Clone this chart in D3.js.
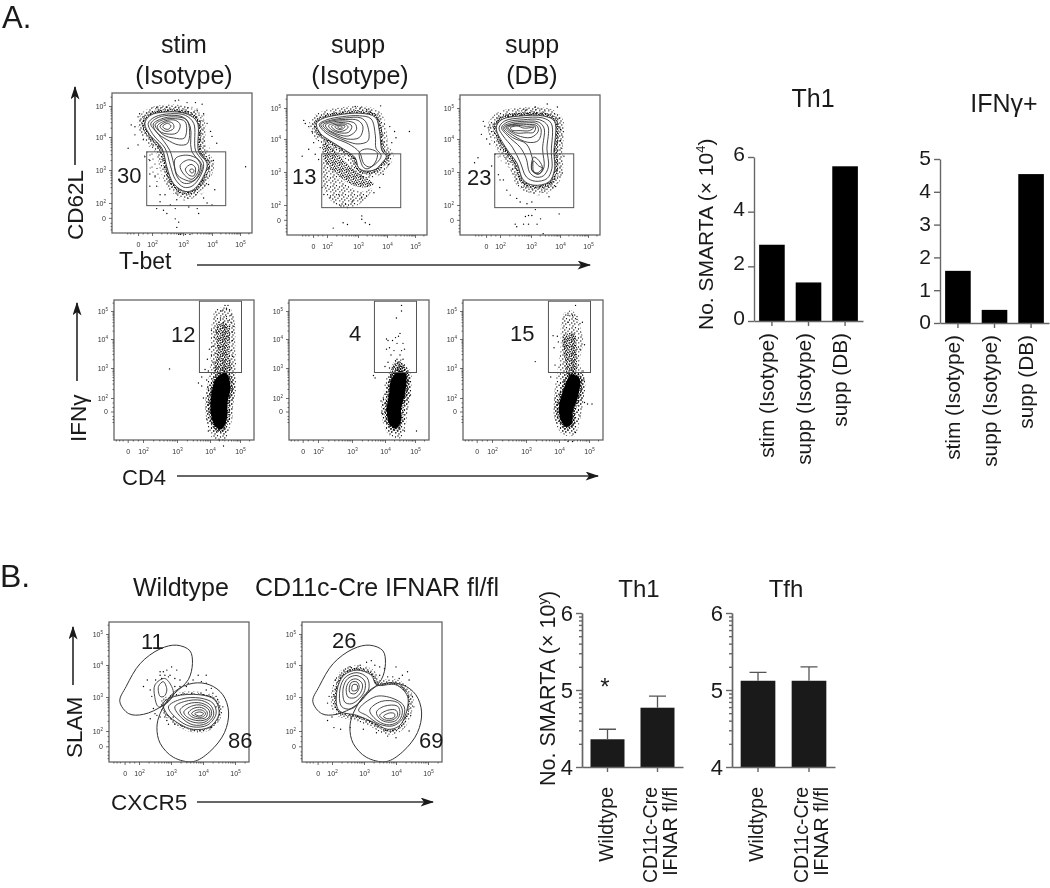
<!DOCTYPE html>
<html lang="en">
<head>
<meta charset="UTF-8">
<title>SMARTA flow plots</title>
<script src="https://d3js.org/d3.v7.min.js"></script>
<style>
  html, body { margin: 0; padding: 0; background: #fff; }
  svg { display: block; font-family: "Liberation Sans", Arial, sans-serif; filter: blur(0.35px); }
  text { fill: #1a1a1a; }
</style>
</head>
<body>
<svg id="fig" width="1050" height="888"></svg>
<script>
const flowTickValues = [1.55, 2, 3, 4, 5];
const flowMinorValues = [1.2, 1.3, 1.4, 1.7, 1.85, 2.3, 2.48, 2.6, 2.7, 2.78, 2.85, 2.9, 2.95, 3.3, 3.48, 3.6, 3.7, 3.78, 3.85, 3.9, 3.95, 4.3, 4.48, 4.6, 4.7, 4.78, 4.85, 4.9, 4.95, 5.3];

const stimIsoContours = [
  [[1.77,4.43],[1.93,4.69],[2.48,4.81],[3.14,4.74],[3.49,4.48],[3.54,3.55],[3.83,3.19],[3.71,2.82],[3.37,2.41],[3.08,2.35],[2.7,2.58],[2.48,3.09],[2.32,3.66],[1.93,4.07]],
  [[1.88,4.44],[2.1,4.65],[2.59,4.75],[3.08,4.7],[3.37,4.44],[3.43,3.6],[3.71,3.19],[3.6,2.82],[3.31,2.51],[3.02,2.48],[2.75,2.72],[2.59,3.14],[2.42,3.66],[2.04,4.07]],
  [[1.96,4.42],[2.2,4.63],[2.64,4.7],[3.02,4.63],[3.25,4.33],[3.29,3.6],[3.6,3.17],[3.51,2.82],[3.25,2.61],[3,2.61],[2.8,2.82],[2.7,3.19],[2.57,3.6],[2.2,4.1]],
  [[2.04,4.42],[2.32,4.59],[2.7,4.65],[3.14,4.54],[3.16,3.81],[2.86,3.76],[2.48,3.92],[2.15,4.15]],
  [[2.1,4.39],[2.37,4.56],[2.75,4.59],[3.08,4.49],[3.05,3.97],[2.7,3.97],[2.37,4.07]],
  [[2.17,4.35],[2.42,4.52],[2.75,4.54],[2.91,4.39],[2.8,4.13],[2.48,4.1],[2.26,4.18]],
  [[2.26,4.35],[2.48,4.49],[2.67,4.44],[2.7,4.28],[2.48,4.18],[2.32,4.25]],
  [[2.35,4.35],[2.5,4.44],[2.61,4.36],[2.53,4.25],[2.39,4.28]],
  [[2.75,3.34],[3.14,3.45],[3.54,3.31],[3.66,3.06],[3.37,2.67],[3.02,2.72],[2.8,2.88]],
  [[2.91,3.14],[3.2,3.31],[3.49,3.19],[3.54,3],[3.31,2.72],[3.02,2.88]],
  [[3.08,3.03],[3.28,3.17],[3.43,3.06],[3.37,2.82],[3.2,2.85]],
  [[3.23,3],[3.32,3.03],[3.38,2.98],[3.31,2.9]]
];
const stimIsoDots = [[2.75,5.17],[2.86,5.19],[3.14,5.11],[3.43,5.11],[3.66,5.06],[2.48,4.96],[2.15,4.96],[1.6,4.75],[1.55,4.65],[1.33,4.39],[1.45,4.33],[1.23,3.66],[1.45,4.07],[1.72,3.92],[1.55,3.76],[2.04,3.76],[1.77,3.4],[1.93,3.29],[2.1,2.82],[1.93,2.51],[2.26,2.25],[2.15,1.83],[2.48,1.68],[2.75,1.52],[2.86,1.42],[2.8,1.26],[2.86,1.05],[2.92,1.05],[3.08,1.05],[3.24,1.05],[3.71,2.15],[3.83,2],[4,1.94],[4.1,2.4],[3.88,2.56],[4.05,3.29],[4.17,3.81],[4,4.02],[3.83,4.44],[3.95,4.18],[3.71,4.75],[3.49,4.85],[5.2,3.1],[2.26,2.04],[2.59,1.94],[3.2,1.88],[3.49,1.83],[3.54,1.68],[2.75,1.83],[2.37,1.78],[1.93,2.88],[2.15,2.51],[2.42,2.25],[2.8,2.1]];
const stimIsoSparse = [[2.1,3.6],[2.4,3],[2.7,2.35],[3.1,2.05],[3.6,2.2],[3.95,2.9],[3.95,3.6],[3.7,4.1],[3.7,4.85],[2.9,5],[2,4.95],[1.55,4.5],[2.2,4.1],[1.75,3.5],[1.9,3.1],[2.3,2.4]];

const suppIsoContours = [
  [[1.66,4.49],[1.84,4.65],[2.32,4.77],[3.08,4.83],[3.6,4.7],[3.74,4.24],[3.83,3.64],[3.98,3.48],[3.83,3.28],[3.6,3.08],[3.25,3.03],[3.02,3.13],[2.91,3.43],[2.54,3.69],[2.11,3.94],[1.78,4.19]],
  [[1.75,4.47],[2,4.62],[2.5,4.72],[3.05,4.75],[3.45,4.65],[3.6,4.1],[3.62,3.72],[3.8,3.5],[3.65,3.28],[3.4,3.15],[3.2,3.25],[3.05,3.6],[2.7,3.85],[2.2,4.05],[1.9,4.25]],
  [[1.8,4.47],[2.1,4.6],[2.6,4.68],[3.1,4.68],[3.3,4.5],[3.35,3.95],[3,3.85],[2.65,3.93],[2.25,4.1],[1.95,4.27]],
  [[1.87,4.45],[2.15,4.58],[2.6,4.63],[3,4.6],[3.17,4.4],[3.05,4.05],[2.65,4],[2.25,4.15],[2,4.3]],
  [[1.95,4.45],[2.2,4.55],[2.6,4.58],[2.9,4.5],[2.95,4.3],[2.7,4.1],[2.35,4.15],[2.05,4.3]],
  [[2.05,4.43],[2.3,4.52],[2.6,4.52],[2.8,4.42],[2.7,4.22],[2.4,4.2],[2.15,4.3]],
  [[2.15,4.42],[2.35,4.48],[2.6,4.47],[2.68,4.38],[2.55,4.27],[2.35,4.25],[2.2,4.33]],
  [[2.25,4.4],[2.42,4.45],[2.58,4.42],[2.5,4.32],[2.35,4.32]],
  [[2.35,4.4],[2.45,4.42],[2.5,4.38],[2.4,4.34]],
  [[3.05,3.6],[3.3,3.7],[3.66,3.59],[3.6,3.3],[3.35,3.1],[3.2,3.13],[3.1,3.3]]
];
const suppIsoDots = [[1.25,4.6],[1.3,4.5],[1.41,4.4],[1.52,4.24],[1.57,3.89],[1.41,3.69],[1.2,3.48],[1.62,3.54],[1.73,3.38],[1.78,3.74],[2.91,5.05],[3.08,5],[3.3,4.95],[3.78,5.07],[3.42,4.9],[4.1,4.4],[4.27,4.24],[4.32,4.04],[4.17,3.89],[4.8,4.24],[4.1,3.54],[4.05,3.23],[3.87,2.93],[3.75,2.53],[3.55,2.37],[3.3,2.27],[3.12,2.22],[2.83,2.12],[2.6,2.02],[2.45,1.97],[2.66,1.92],[3.13,1.67],[3.13,1.57],[3.25,1.46],[3.4,1.41],[2.52,1.46],[2.66,1.41],[2.2,1.3],[1.9,2.32],[2.1,2.22],[2.38,2.32],[1.84,2.53]];
const suppIsoDense = [[1.89,3.89],[2.91,3.03],[3.55,2.63],[3.08,2.53],[2.43,2.83],[1.89,3.43]];
const suppIsoSparse = [[1.89,3.4],[2.4,2.8],[3.1,2.4],[3.5,2.5],[3,2],[2.3,2],[1.9,2.5]];

const suppDbContours = [
  [[1.88,4.36],[2.05,4.62],[2.65,4.74],[3.44,4.74],[3.81,4.57],[3.79,3.59],[3.81,3.07],[3.62,2.7],[3.09,2.6],[2.76,2.75],[2.54,3.28],[2.22,3.69]],
  [[1.97,4.36],[2.15,4.58],[2.7,4.68],[3.4,4.68],[3.7,4.5],[3.7,3.6],[3.72,3.1],[3.55,2.8],[3.15,2.72],[2.85,2.85],[2.65,3.3],[2.4,3.75],[2.1,4.1]],
  [[2.05,4.37],[2.25,4.55],[2.75,4.62],[3.3,4.62],[3.58,4.42],[3.55,3.7],[3.6,3.15],[3.42,2.88],[3.15,2.85],[2.95,3],[2.85,3.4],[2.65,3.75],[2.25,4.1]],
  [[2.1,4.37],[2.35,4.52],[2.8,4.57],[3.25,4.55],[3.45,4.35],[3.4,3.7],[3.45,3.15],[3.3,2.95],[3.1,3],[3.05,3.4],[2.85,3.85],[2.4,4.05]],
  [[2.15,4.37],[2.4,4.48],[2.85,4.52],[3.2,4.5],[3.35,4.3],[3.25,3.95],[2.9,3.9],[2.45,4.1]],
  [[2.2,4.38],[2.45,4.47],[2.85,4.47],[3.2,4.43],[3.25,4.25],[3,4.05],[2.55,4.12]],
  [[2.25,4.37],[2.5,4.44],[2.85,4.41],[3.15,4.4],[3.1,4.22],[2.85,4.2],[2.5,4.2]],
  [[2.33,4.36],[2.55,4.42],[2.78,4.35],[3.1,4.37],[2.95,4.27],[2.65,4.27],[2.4,4.28]],
  [[3.09,3.45],[3.27,3.35],[3.4,3.1],[3.25,2.93],[3.03,3.05]],
  [[3.09,3.33],[3.27,3.18],[3.39,3.12],[3.21,2.97],[3.03,3.07]]
];
const suppDbDots = [[1.46,4.57],[1.51,4.41],[1.4,4.15],[1.62,4.36],[1.57,4],[1.67,3.85],[1.29,3.43],[1.18,3.28],[1.73,3.18],[1.84,3.54],[1.95,2.92],[2.11,2.76],[2.22,2.45],[2.33,2.3],[2.54,2.2],[2.65,2.09],[2.87,2.04],[3.03,2.09],[3.15,1.86],[2.92,1.68],[3.03,1.68],[2.82,1.65],[2.49,1.42],[2.54,1.34],[2.76,1.42],[2.92,1.42],[3.21,1.42],[3.33,1.58],[3.42,1.13],[3.97,1.73],[3.62,2.25],[3.85,2.56],[4.08,2.97],[4.14,3.48],[4.02,3.95],[4.02,4.31],[3.97,4.67],[3.91,5.03],[3.56,5.13],[3.15,5.03],[2.82,4.93],[2.43,4.77],[2.27,4.72],[2,2.76]];
const suppDbSparse = [[1.9,3.5],[2.3,3.1],[2.6,2.6],[3.1,2.3],[3.7,2.4],[4,3],[4,4.6],[3.5,5],[2.5,4.9],[1.6,4.5],[2,3.9]];

const ifnStimDots = [[4.5,5.2],[4.6,5.2],[4.55,5.1],[4.65,5.05],[4.4,5],[4.7,4.85],[4.35,4.75],[4.55,4.8],[4.3,4.6],[4.45,4.6],[4.6,4.65],[4.7,4.6],[4.8,4.45],[4.65,4.45],[4.05,4.3],[4.2,4.25],[4.5,4.4],[4.75,4.25],[4.15,4.05],[4.6,4.1],[4.75,3.95],[4.1,3.75],[4.3,3.7],[3.98,3.65],[4.05,3.45],[4.2,3.5],[4.7,3.6],[4.75,3.4],[3.92,3.3],[4.1,3.2],[3.95,2.9],[3.85,2.95],[3.75,2.7],[3.65,2.5],[3.75,2.4],[3.9,2.6],[3.95,2.3],[3.8,2],[4.02,1.6],[3.9,1.3],[3.95,0.9],[4.3,0.6],[4.45,0.4],[2.78,2.97]];
const ifnStimBlob = [[4.21,2.66],[4.53,2.83],[4.68,2.38],[4.58,1.81],[4.56,1.3],[4.37,0.95],[4.16,1.07],[4.02,1.58],[4.05,2.15]];
const ifnStimDense = [[4.25,4.5],[4.6,4.5],[4.65,3.5],[4.7,2.9],[4.15,2.85],[4.25,3.5]];
const ifnStimSparse = [[4.2,5.05],[4.7,5.05],[4.85,3.5],[4.85,2.4],[4.7,1.4],[4.5,0.6],[4.05,0.7],[3.9,2.2],[4,3]];

const ifnSuppDots = [[4.55,5.2],[4.55,5],[4.38,4.75],[4.5,4.2],[4.45,4.1],[4.05,4],[4.1,3.95],[4.35,4.05],[4.25,3.95],[4.6,3.85],[4.65,3.65],[4.05,3.65],[4.15,3.7],[4.4,3.85],[4.55,3.6],[4.2,3.45],[4.5,3.45],[4.6,3.3],[4.3,3.6],[4.1,3.2],[4,3.05],[4.15,3],[4.55,3.05],[3.65,2.75],[3.7,2.67],[4.8,2.55],[5.05,0.9],[4.65,0.9],[3.9,1.5],[3.95,2],[3.88,1.9],[4.85,2.1],[4.4,3.3],[4.35,3.25]];
const ifnSuppBlob = [[4.19,2.55],[4.46,2.89],[4.68,2.83],[4.68,2.21],[4.54,1.65],[4.52,1.2],[4.35,0.98],[4.14,1.15],[4.06,1.65],[4.14,2.16]];
const ifnSuppDense = [[4.3,3.2],[4.55,3.2],[4.7,2.85],[4.2,2.6]];
const ifnSuppSparse = [[4.1,2.6],[4.3,3.1],[4.55,3.3],[4.85,2.6],[4.75,1.5],[4.5,0.65],[4.1,0.8],[3.9,1.6],[4,2.2]];

const ifnDbDots = [[4.55,5.2],[4.45,4.85],[4.6,4.7],[4.3,4.6],[4.7,4.55],[4.78,4.6],[4.6,4.8],[4.3,4.85],[3.95,4.1],[3.98,3.9],[3.82,4.12],[3.85,3.7],[4.85,3.8],[4.7,3.65],[3.88,3.1],[3.28,3.22],[3.75,2.7],[4.8,2.9],[4.83,2.6],[4.95,1.8],[4.85,1.85],[5.1,1.8],[4.55,0.85],[4.45,0.55],[4.2,0.6],[4.3,0.55],[4.7,1.4]];
const ifnDbBlob = [[4.09,2.1],[4.41,2.78],[4.68,2.66],[4.62,1.99],[4.46,1.54],[4.43,1.15],[4.25,1.03],[4.06,1.26],[4,1.71]];
const ifnDbDense = [[4.15,4.1],[4.5,4.2],[4.6,3.4],[4.55,2.8],[4.3,2.7],[4.2,3.3]];
const ifnDbSparse = [[4.15,4.9],[4.45,5],[4.8,4],[4.7,3.2],[4.85,2.5],[4.75,1.5],[4.5,0.75],[4.05,0.85],[3.85,1.8],[3.95,2.9],[4.05,3.6]];

const th1UpperGate = [[1.4,2.87],[1.6,3.33],[2.04,4.05],[2.66,4.52],[3.18,4.64],[3.59,4.46],[3.67,4.05],[3.54,3.54],[3.12,3.12],[2.76,2.76],[2.14,2.49],[1.68,2.51]];
const tfhLowerGate = [[2.56,2.1],[2.66,2.51],[3.12,3.17],[3.69,3.43],[4.21,3.38],[4.62,3.07],[4.8,2.56],[4.67,1.95],[4.21,1.39],[3.69,1.1],[3.07,1.23],[2.66,1.64]];

const wtContours = [
  [[2.76,2.82],[3.12,3.02],[3.9,3.07],[4.36,2.92],[4.5,2.51],[4.21,2.12],[3.69,2.05],[3.28,2.2],[2.87,2.51]],
  [[2.92,2.71],[3.33,2.94],[3.9,2.97],[4.31,2.82],[4.41,2.51],[4.15,2.18],[3.69,2.12],[3.28,2.29]],
  [[3.12,2.71],[3.43,2.87],[3.95,2.9],[4.26,2.73],[4.33,2.46],[4.1,2.22],[3.69,2.18],[3.33,2.39]],
  [[3.28,2.61],[3.54,2.8],[3.95,2.82],[4.23,2.66],[4.26,2.46],[4.05,2.26],[3.69,2.26],[3.4,2.41]],
  [[3.4,2.56],[3.64,2.73],[3.95,2.76],[4.19,2.61],[4.19,2.41],[4,2.31],[3.69,2.33],[3.48,2.43]],
  [[3.54,2.53],[3.69,2.66],[3.95,2.69],[4.13,2.56],[4.1,2.41],[3.95,2.36],[3.71,2.39],[3.59,2.46]],
  [[3.64,2.51],[3.79,2.61],[3.98,2.61],[4.08,2.51],[3.98,2.41],[3.77,2.43]],
  [[3.74,2.51],[3.9,2.56],[4.02,2.51],[3.9,2.44]],
  [[2.5,3.38],[2.8,3.58],[3.02,3.33],[3.07,3.07],[2.87,2.82],[2.61,2.71],[2.49,3.02]],
  [[2.61,3.33],[2.76,3.48],[2.87,3.22],[2.78,3.02],[2.66,3.02]]
];
const wtDots = [[2.66,3.68],[2.76,3.79],[2.87,3.84],[3.02,3.94],[2.92,3.63],[3.18,3.84],[3.12,3.58],[2.52,3.53],[2.26,3.53],[2.14,3.33],[2.35,3.22],[2.4,3.02],[2.45,2.66],[2.56,2.46],[2.66,2.41],[2.87,2.31],[3.12,2.2],[3.28,3.33],[3.54,3.43],[3.85,3.68],[4.1,3.68],[4.1,3.43],[4.31,3.12],[4.46,2.92],[4.62,2.71],[4.41,3.02],[3.69,3.53],[3.95,3.48],[3.48,3.33],[4.26,2.1],[3.07,2.41],[2.66,3.79],[2.81,3.68],[2.97,3.68],[2.71,3.58],[3.12,3.33],[3.28,3.53],[4.41,2.71],[4.1,3.22],[4.26,3.27],[2.5,2.51],[2.35,2.36],[2.81,2.41],[2.92,2.2]];

const koContours = [
  [[2.21,2.61],[2.16,3.22],[2.37,3.68],[2.78,3.84],[3.23,3.68],[3.39,3.38],[4,3.38],[4.36,3.02],[4.31,2.51],[4.1,2.15],[3.74,2.05],[3.29,2.26],[2.78,2.46]],
  [[2.3,2.72],[2.25,3.25],[2.42,3.62],[2.78,3.76],[3.1,3.6],[3.15,3.25],[2.95,2.95],[2.6,2.65]],
  [[2.4,2.85],[2.35,3.28],[2.5,3.58],[2.78,3.67],[3.02,3.5],[3.02,3.2],[2.85,2.95],[2.6,2.8]],
  [[2.5,3],[2.45,3.3],[2.58,3.52],[2.78,3.56],[2.95,3.4],[2.9,3.15],[2.72,2.98]],
  [[2.55,3.15],[2.6,3.45],[2.78,3.47],[2.85,3.3],[2.72,3.1]],
  [[2.63,3.2],[2.65,3.38],[2.78,3.38],[2.78,3.22]],
  [[2.83,2.61],[3.39,3.02],[4,2.92],[4.26,2.71],[4.2,2.36],[3.9,2.15],[3.49,2.2],[3.08,2.46]],
  [[3.18,2.61],[3.54,2.87],[4.05,2.84],[4.2,2.61],[4.1,2.31],[3.8,2.18],[3.44,2.29]],
  [[3.39,2.56],[3.64,2.73],[4.05,2.73],[4.12,2.51],[4,2.31],[3.74,2.26],[3.49,2.36]],
  [[3.49,2.46],[3.74,2.61],[4,2.61],[4.05,2.46],[3.9,2.33],[3.64,2.33]],
  [[3.61,2.43],[3.8,2.53],[3.95,2.51],[3.95,2.41],[3.74,2.36]]
];
const koDots = [[3.23,4.14],[3.08,4.09],[2.88,3.99],[3.34,3.99],[3.49,3.94],[3.64,3.89],[4,3.94],[4.36,3.79],[4.2,3.68],[4.41,3.53],[4.51,3.02],[4.56,2.71],[4.46,2.46],[4.41,2],[4,1.8],[3.74,1.85],[3.39,1.95],[2.98,2.05],[2.57,2.1],[2.27,2.05],[2.06,2.1],[2,2.41],[1.86,2.31],[1.91,3.02],[1.86,2.82],[2.06,3.02],[2.11,3.53],[2.37,3.84],[2.57,3.94],[3.74,3.63],[3.49,3.68],[3.9,3.63],[4.1,3.58]];

const th1Categories = ["stim (Isotype)", "supp (Isotype)", "supp (DB)"];
const th1Values = [2.79, 1.41, 5.66];
const th1Ticks = [0, 2, 4, 6];
const ifnValues = [1.59, 0.4, 4.54];
const ifnTicks = [0, 1, 2, 3, 4, 5];

const miceCategories = ["Wildtype", "CD11c-Cre|IFNAR fl/fl"];
const bTh1Values = [4.36, 4.77];
const bTh1Errors = [4.49, 4.92];
const bTfhValues = [5.12, 5.12];
const bTfhErrors = [5.23, 5.30];
const logTicks = [4, 5, 6];
const logMinorTicks = [4.301, 4.477, 4.602, 4.699, 4.778, 4.845, 4.903, 4.954, 5.301, 5.477, 5.602, 5.699, 5.778, 5.845, 5.903, 5.954];

const svg = d3.select("#fig");
const defs = svg.append("defs");

// hand placed stipple tiles, these stand in for the thousands of single events
function stipple(id, size, spots, r) {
  const p = defs.append("pattern").attr("id", id).attr("patternUnits", "userSpaceOnUse")
    .attr("width", size).attr("height", size);
  p.selectAll("circle").data(spots).join("circle")
    .attr("cx", d => d[0]).attr("cy", d => d[1]).attr("r", r).attr("fill", "#000");
}
stipple("dense", 7, [[1,1],[3.2,0.4],[5.6,1.2],[2.2,2.6],[4.4,2.9],[6.6,3.2],[0.6,3.9],[3.2,4.4],[5.2,4.8],[1.6,5.6],[3.9,6.3],[6.3,6]], 0.72);
stipple("mid", 9, [[1,1],[4.5,0.7],[7.5,2],[2.8,3],[6,4.2],[0.8,5],[3.8,6],[7.8,6.8],[2,8]], 0.65);
stipple("sparse", 13, [[2,1],[7,3],[11,1.5],[4,6],[9,7],[1,9],[6,10.5],[12,10]], 0.6);

defs.append("marker").attr("id", "head").attr("viewBox", "0 0 12 8").attr("refX", 11).attr("refY", 4)
  .attr("markerWidth", 14).attr("markerHeight", 9).attr("markerUnits", "userSpaceOnUse").attr("orient", "auto")
  .append("path").attr("d", "M0,0 L12,4 L0,8 L3,4 Z").attr("fill", "#1a1a1a");

const boxSize = 140;
const rowScales = {
  r1: { x: [40, 71, 100, 128], y: [110, 77, 44, 13] },
  r2: { x: [29, 63, 96, 126], y: [98, 68, 39, 11] },
  r3: { x: [30, 62, 94, 126], y: [109, 75, 43, 12] }
};

function flowPanel(o) {
  const rs = rowScales[o.row];
  const x = d3.scaleLinear().domain([2, 3, 4, 5]).range(rs.x);
  const y = d3.scaleLinear().domain([2, 3, 4, 5]).range(rs.y);
  const g = svg.append("g").attr("transform", `translate(${o.left},${o.top})`);
  const closed = d3.line().x(d => x(d[0])).y(d => y(d[1])).curve(d3.curveCatmullRomClosed.alpha(0.5));

  (o.sparse || []).forEach(r => g.append("path").attr("d", closed(r)).attr("fill", o.sparseFill || "url(#sparse)"));
  (o.dense || []).forEach(r => g.append("path").attr("d", closed(r)).attr("fill", "url(#dense)"));
  if (o.blob) {
    g.append("path").attr("d", closed(o.blob)).attr("fill", "none").attr("stroke", "url(#mid)").attr("stroke-width", 11);
    g.append("path").attr("d", closed(o.blob)).attr("fill", "#000").attr("stroke", "url(#dense)").attr("stroke-width", 5);
  }

  if (o.contours) {
    const outer = o.contours[0];
    g.append("path").attr("d", closed(outer)).attr("fill", "none")
      .attr("stroke", "url(#mid)").attr("stroke-width", o.halo * 2.4);
    g.append("path").attr("d", closed(outer)).attr("fill", "#fff")
      .attr("stroke", "url(#dense)").attr("stroke-width", o.halo);
    g.append("path").attr("d", closed(outer)).attr("fill", "#fff");
    g.selectAll("path.contour").data(o.contours).join("path").attr("class", "contour")
      .attr("d", closed).attr("fill", "none").attr("stroke", "#333").attr("stroke-width", 0.9);
  }

  g.selectAll("circle.dot").data(o.dots).join("circle").attr("class", "dot")
    .attr("cx", d => x(d[0])).attr("cy", d => y(d[1])).attr("r", 0.7).attr("fill", "#000");

  if (o.gate) {
    g.append("rect").attr("x", x(o.gate[0])).attr("y", y(o.gate[3]))
      .attr("width", x(o.gate[1]) - x(o.gate[0])).attr("height", y(o.gate[2]) - y(o.gate[3]))
      .attr("fill", "none").attr("stroke", "#555").attr("stroke-width", 1);
  }
  (o.ellipses || []).forEach(r => g.append("path").attr("d", closed(r)).attr("fill", "none")
    .attr("stroke", "#333").attr("stroke-width", 1));

  g.append("rect").attr("width", boxSize).attr("height", boxSize).attr("fill", "none")
    .attr("stroke", "#666").attr("stroke-width", 1.3);

  const xAxis = g.append("g").attr("transform", `translate(0,${boxSize})`)
    .call(d3.axisBottom(x).tickValues(flowTickValues).tickSize(3).tickPadding(6));
  const yAxis = g.append("g")
    .call(d3.axisLeft(y).tickValues(flowTickValues).tickSize(3).tickPadding(3));
  g.append("g").attr("transform", `translate(0,${boxSize})`)
    .call(d3.axisBottom(x).tickValues(flowMinorValues).tickSize(1.5).tickFormat(""));
  g.append("g").call(d3.axisLeft(y).tickValues(flowMinorValues).tickSize(1.5).tickFormat(""));
  g.selectAll(".domain").remove();
  g.selectAll(".tick line").attr("stroke", "#333").attr("stroke-width", 0.7);
  [xAxis, yAxis].forEach(a => a.selectAll(".tick text").each(function (d) {
    const t = d3.select(this).text(null).attr("font-size", 7).style("fill", "#333");
    if (d < 2) { t.text("0"); return; }
    t.append("tspan").text("10");
    t.append("tspan").text(d).attr("font-size", 4.5).attr("dy", -2.5);
  }));
}

const upGate = [1.83, 4.49, 1.92, 3.55];
const ifnGate = [3.68, 5.05, 2.85, 5.35];
flowPanel({ row: "r1", left: 112, top: 93, contours: stimIsoContours, dots: stimIsoDots, sparse: [stimIsoSparse], halo: 6, gate: upGate });
flowPanel({ row: "r1", left: 287, top: 95, contours: suppIsoContours, dots: suppIsoDots, dense: [suppIsoDense], sparse: [suppIsoSparse], sparseFill: "url(#mid)", halo: 6, gate: upGate });
flowPanel({ row: "r1", left: 460, top: 95, contours: suppDbContours, dots: suppDbDots, sparse: [suppDbSparse], halo: 7, gate: upGate });
flowPanel({ row: "r2", left: 114, top: 300, blob: ifnStimBlob, dots: ifnStimDots, dense: [ifnStimDense], sparse: [ifnStimSparse], sparseFill: "url(#mid)", gate: ifnGate });
flowPanel({ row: "r2", left: 289, top: 300, blob: ifnSuppBlob, dots: ifnSuppDots, dense: [ifnSuppDense], sparse: [ifnSuppSparse], sparseFill: "url(#mid)", gate: ifnGate });
flowPanel({ row: "r2", left: 463, top: 300, blob: ifnDbBlob, dots: ifnDbDots, dense: [ifnDbDense], sparse: [ifnDbSparse], sparseFill: "url(#mid)", gate: ifnGate });
flowPanel({ row: "r3", left: 109, top: 622, contours: wtContours, dots: wtDots, halo: 2.5, ellipses: [th1UpperGate, tfhLowerGate] });
flowPanel({ row: "r3", left: 302, top: 622, contours: koContours, dots: koDots, halo: 4.5, ellipses: [th1UpperGate, tfhLowerGate] });

function label(txt, px, py, size, anchor, rot) {
  const t = svg.append("text").attr("font-size", size).attr("text-anchor", anchor || "start");
  if (rot) t.attr("transform", `translate(${px},${py}) rotate(-90)`);
  else t.attr("x", px).attr("y", py);
  t.text(txt);
  return t;
}
function arrow(x1, y1, x2, y2) {
  svg.append("line").attr("x1", x1).attr("y1", y1).attr("x2", x2).attr("y2", y2)
    .attr("stroke", "#333").attr("stroke-width", 1.7).attr("marker-end", "url(#head)");
}

label("A.", 2, 28, 31);
label("B.", 0, 587, 32);
[["stim", 184], ["supp", 358], ["supp", 532]].forEach(d => label(d[0], d[1], 53, 25, "middle"));
[["(Isotype)", 184], ["(Isotype)", 360], ["(DB)", 532]].forEach(d => label(d[0], d[1], 84, 25, "middle"));
label("Wildtype", 133, 596, 25);
label("CD11c-Cre IFNAR fl/fl", 255, 596, 25);

label("CD62L", 83, 240, 22.5, "start", true);
arrow(75, 165, 75, 87);
label("T-bet", 119, 269, 23);
arrow(197, 265, 590, 265);
label("IFNγ", 86, 442, 22.5, "start", true);
arrow(77, 381, 77, 303);
label("CD4", 122, 485, 22);
arrow(177, 476, 598, 476);
label("SLAM", 82, 758, 22.5, "start", true);
arrow(73, 685, 73, 627);
label("CXCR5", 111, 810, 22.5);
arrow(197, 802, 433, 802);

[["30", 117, 183], ["13", 292, 184], ["23", 467, 185], ["12", 171, 342], ["4", 349, 341], ["15", 510, 341],
 ["11", 141, 649], ["86", 228, 748], ["26", 332, 648], ["69", 419, 748]]
  .forEach(d => label(d[0], d[1], d[2], 22));

// bar panels
function barPanel(o) {
  const x = d3.scaleBand().domain(o.categories).range(o.xRange).paddingInner(o.inner).paddingOuter(o.outer);
  const y = d3.scaleLinear().domain(o.domain).range(o.yRange);
  const g = svg.append("g");
  g.selectAll("rect.bar").data(o.values).join("rect").attr("class", "bar")
    .attr("x", (d, i) => x(o.categories[i])).attr("width", x.bandwidth())
    .attr("y", d => y(d)).attr("height", d => y(o.domain[0]) - y(d)).attr("fill", o.fill);

  if (o.errors) {
    const cap = 8.5;
    o.errors.forEach((e, i) => {
      const c = x(o.categories[i]) + x.bandwidth() / 2;
      g.append("path").attr("d", `M${c},${y(o.values[i])}V${y(e)}M${c - cap},${y(e)}H${c + cap}`)
        .attr("fill", "none").attr("stroke", "#555").attr("stroke-width", 1.3);
    });
  }

  const ax = g.append("g").attr("transform", `translate(${o.xRange[0]},0)`)
    .call(d3.axisLeft(y).tickValues(o.ticks).tickFormat(d3.format("d")).tickSize(6).tickSizeOuter(0).tickPadding(3));
  ax.selectAll("text").attr("font-size", o.tickSize).attr("dy", o.tickDy || "0.36em").style("fill", "#1a1a1a");
  if (o.minor) g.append("g").attr("transform", `translate(${o.xRange[0]},0)`)
    .call(d3.axisLeft(y).tickValues(o.minor).tickFormat("").tickSize(3).tickSizeOuter(0));

  const bx = g.append("g").attr("transform", `translate(0,${y(o.domain[0])})`)
    .call(d3.axisBottom(x).tickSize(5).tickSizeOuter(0));
  bx.selectAll(".tick text").each(function (d) {
    const t = d3.select(this).text(null).attr("transform", "rotate(-90)")
      .attr("text-anchor", "end").attr("x", -o.labelGap).attr("dy", null)
      .attr("font-size", o.labelSize).style("fill", "#1a1a1a");
    const parts = d.split("|");
    parts.forEach((s, i) => t.append("tspan").attr("x", -o.labelGap)
      .attr("y", parts.length > 1 ? o.lineY[i] : o.singleY).text(s));
  });
  g.selectAll(".domain, .tick line").attr("stroke", "#666").attr("stroke-width", 1.4);
  label(o.title, o.titleX, o.titleY, o.titleSize, "middle");
}

const aBars = { categories: th1Categories, inner: 0.3, outer: 0.14, fill: "#000", tickSize: 21, labelGap: 12, labelSize: 20.8, singleY: 2, titleSize: 25 };
barPanel({ ...aBars, values: th1Values, ticks: th1Ticks, domain: [0, 6], xRange: [754, 863], yRange: [321, 157], tickDy: "0.16em", title: "Th1", titleX: 813, titleY: 107 });
barPanel({ ...aBars, values: ifnValues, ticks: ifnTicks, domain: [0, 5], xRange: [940, 1049], yRange: [323, 159], tickDy: "0.28em", title: "IFNγ+", titleX: 1004, titleY: 112 });

const bBars = { categories: miceCategories, inner: 0.32, outer: 0.17, fill: "#1a1a1a", tickSize: 22, labelGap: 20, labelSize: 19.5, singleY: 5, lineY: [-1, 19], domain: [4, 6], yRange: [767, 613], ticks: logTicks, minor: logMinorTicks, titleSize: 24 };
barPanel({ ...bBars, values: bTh1Values, errors: bTh1Errors, xRange: [582, 683], title: "Th1", titleX: 639, titleY: 597 });
barPanel({ ...bBars, values: bTfhValues, errors: bTfhErrors, xRange: [732, 835], title: "Tfh", titleX: 786, titleY: 597 });

label("*", 605, 695, 24, "middle");

function smartaLabel(px, py, size, sup) {
  const t = label("No. SMARTA (× 10", px, py, size, "start", true);
  t.append("tspan").text(sup).attr("font-size", size * 0.62).attr("dy", -size * 0.38);
  t.append("tspan").text(")").attr("dy", size * 0.38);
}
smartaLabel(713, 330, 21, "4");
smartaLabel(555, 786, 21.5, "y");
</script>
</body>
</html>
